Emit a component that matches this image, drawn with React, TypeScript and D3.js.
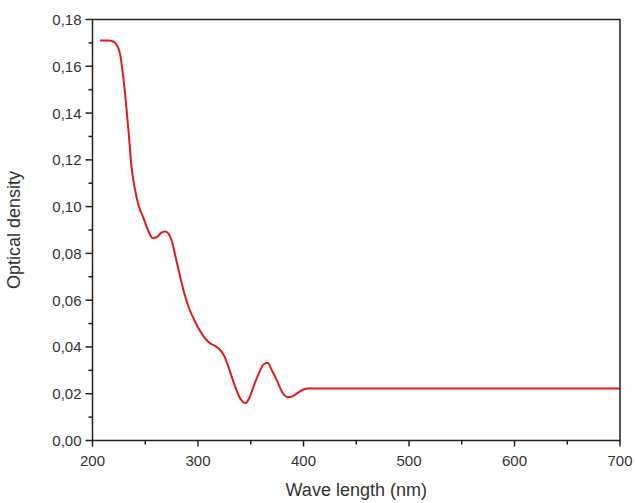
import React from "react";
import * as d3 from "d3";

const wavelengths = [207, 215, 220, 223, 226, 230, 234, 237, 240, 244, 248, 253, 257, 261, 265, 269, 272, 275, 279, 283, 287, 292, 297, 302, 307, 311, 316, 320, 325, 330, 334, 340, 345, 349, 353, 358, 362, 366, 370, 375, 380, 385, 390, 395, 400, 404, 700];
const densities = [0.171, 0.171, 0.1705, 0.169, 0.1655, 0.152, 0.133, 0.117, 0.108, 0.1, 0.0955, 0.0895, 0.0866, 0.087, 0.0888, 0.0894, 0.0885, 0.0855, 0.078, 0.0702, 0.063, 0.056, 0.051, 0.0468, 0.0435, 0.0417, 0.0405, 0.0392, 0.036, 0.03, 0.0245, 0.018, 0.016, 0.0185, 0.0235, 0.029, 0.0325, 0.0332, 0.03, 0.0255, 0.0205, 0.0185, 0.019, 0.0205, 0.0218, 0.0222, 0.0222];
const xMajorTicks = [200, 300, 400, 500, 600, 700];
const xMinorTicks = [250, 350, 450, 550, 650];
const yMajorTicks = [0, 0.02, 0.04, 0.06, 0.08, 0.1, 0.12, 0.14, 0.16, 0.18];
const yMinorTicks = [0.01, 0.03, 0.05, 0.07, 0.09, 0.11, 0.13, 0.15, 0.17];

const W = 635, H = 503;
const left = 92.5, right = 620, top = 19.5, bottom = 440.5;
const font = "'Liberation Sans', Arial, sans-serif";
const textColor = "#333";

export default function App() {
  const x = d3.scaleLinear().domain([200, 700]).range([left, right]);
  const y = d3.scaleLinear().domain([0, 0.18]).range([bottom, top]);
  const pts: [number, number][] = wavelengths.map((w, i) => [w, densities[i]]);
  const line = d3.line<[number, number]>().x(d => x(d[0])).y(d => y(d[1])).curve(d3.curveMonotoneX);
  const fmt = (v: number) => v.toFixed(2).replace(".", ",");
  return (
    <svg width={W} height={H} style={{ position: "absolute", left: 0, top: 0, background: "#fff" }}>
      <rect x={0} y={0} width={W} height={H} fill="#fff" />
      <path d={line(pts) || ""} fill="none" stroke="#e01b1b" strokeWidth={2} />
      <rect x={left} y={top} width={right - left} height={bottom - top} fill="none" stroke="#222" strokeWidth={1.5} />
      {xMajorTicks.map(t => (
        <g key={"xm" + t}>
          <line x1={x(t)} x2={x(t)} y1={bottom} y2={bottom + 6} stroke="#222" strokeWidth={1.5} />
          <text x={x(t)} y={bottom + 25} textAnchor="middle" fontFamily={font} fontSize={15} fill={textColor}>{t}</text>
        </g>
      ))}
      {xMinorTicks.map(t => (
        <line key={"xn" + t} x1={x(t)} x2={x(t)} y1={bottom} y2={bottom + 4} stroke="#222" strokeWidth={1.5} />
      ))}
      {yMajorTicks.map(t => (
        <g key={"ym" + t}>
          <line x1={left - 7} x2={left} y1={y(t)} y2={y(t)} stroke="#222" strokeWidth={1.5} />
          <text x={left - 11} y={y(t) + 5.5} textAnchor="end" fontFamily={font} fontSize={15} fill={textColor}>{fmt(t)}</text>
        </g>
      ))}
      {yMinorTicks.map(t => (
        <line key={"yn" + t} x1={left - 4} x2={left} y1={y(t)} y2={y(t)} stroke="#222" strokeWidth={1.5} />
      ))}
      <text x={(left + right) / 2} y={496} textAnchor="middle" fontFamily={font} fontSize={18} fill={textColor}>Wave length (nm)</text>
      <text transform={`translate(20, ${(top + bottom) / 2}) rotate(-90)`} textAnchor="middle" fontFamily={font} fontSize={18} fill={textColor}>Optical density</text>
    </svg>
  );
}
